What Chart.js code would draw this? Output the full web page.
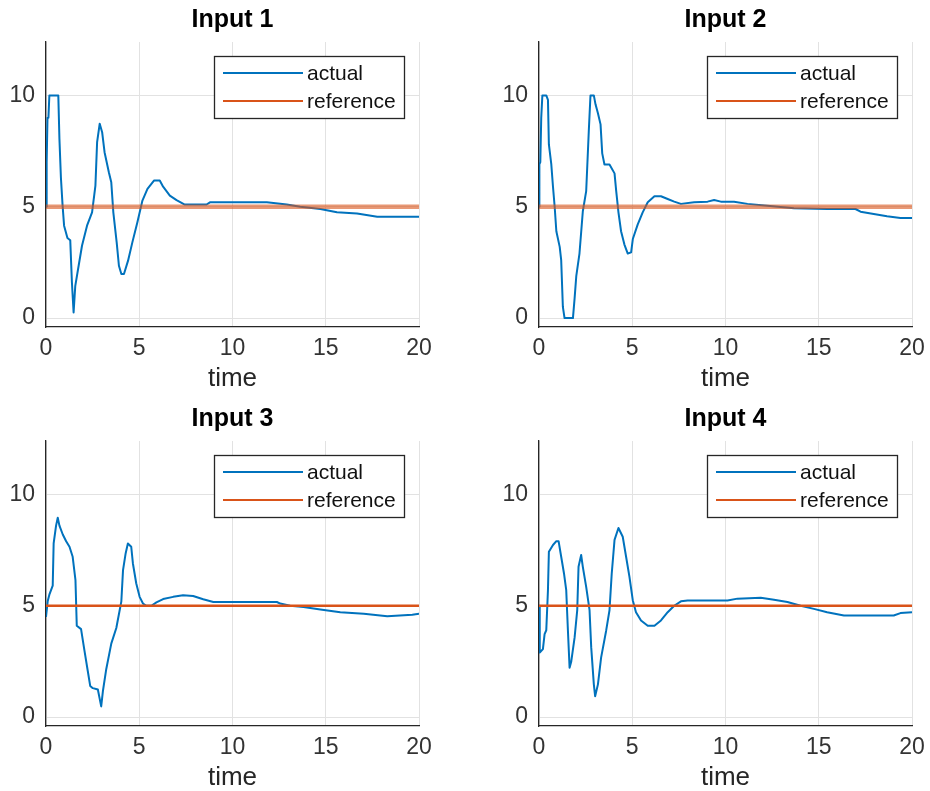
<!DOCTYPE html>
<html>
<head>
<meta charset="utf-8">
<title>Input 1-4: actual vs reference</title>
<script src="https://cdn.jsdelivr.net/npm/chart.js@4.4.1/dist/chart.umd.min.js"></script>
<style>
  body { margin: 0; background: #fff; }
  #wrap { position: relative; width: 930px; height: 791px; overflow: hidden; }
  #wrap canvas { position: absolute; }
</style>
</head>
<body>
<div id="wrap">
  <canvas id="p1" width="437" height="392" style="left:0px;top:0px"></canvas>
  <canvas id="p2" width="437" height="392" style="left:493px;top:0px"></canvas>
  <canvas id="p3" width="437" height="392" style="left:0px;top:399px"></canvas>
  <canvas id="p4" width="437" height="392" style="left:493px;top:399px"></canvas>
</div>
<script>
// values
const titles = ['Input 1', 'Input 2', 'Input 3', 'Input 4']
const legendLabels = ['actual', 'reference']
const xLabel = 'time'
const xTicks = [0, 5, 10, 15, 20]
const yTicks = [0, 5, 10]

const refTime = [0, 20]
const refLevel = [5, 5]

const time1 = [0, 0.02, 0.05, 0.08, 0.13, 0.18, 0.66, 0.72, 0.80, 0.89, 0.97, 1.15, 1.30, 1.39, 1.48, 1.57,
  1.75, 1.93, 2.20, 2.47, 2.65, 2.74, 2.88, 3.01, 3.14, 3.37, 3.50, 3.61, 3.79, 3.91, 4.04, 4.18, 4.40, 4.63,
  4.90, 5.17, 5.44, 5.80, 6.10, 6.28, 6.64, 7.0, 7.44, 8.61, 8.79, 11.84, 12.91, 13.63, 14.71, 15.6, 16.68,
  17.76, 20]
const actual1 = [5, 7, 7, 9, 9, 10, 10, 8.05, 6.3, 5.05, 4.15, 3.6, 3.5, 1.6, 0.25, 1.45,
  2.35, 3.25, 4.15, 4.75, 5.95, 7.9, 8.73, 8.35, 7.45, 6.55, 6.1, 4.75, 3.4, 2.35, 1.98, 1.98, 2.58, 3.4,
  4.3, 5.28, 5.8, 6.18, 6.18, 5.9, 5.5, 5.3, 5.1, 5.1, 5.2, 5.2, 5.1, 5.0, 4.9, 4.75, 4.7,
  4.55, 4.55]

const time2 = [0, 0.02, 0.07, 0.12, 0.18, 0.39, 0.48, 0.53, 0.66, 0.75, 0.84, 0.93, 1.11, 1.19, 1.28, 1.37,
  1.82, 1.91, 2.0, 2.17, 2.35, 2.53, 2.67, 2.76, 2.94, 3.03, 3.16, 3.30, 3.39, 3.51, 3.78, 4.05, 4.14, 4.26,
  4.40, 4.58, 4.76, 4.94, 5.03, 5.29, 5.56, 5.83, 6.19, 6.54, 6.9, 7.25, 7.61, 8.32, 9.04, 9.39, 9.75, 10.46,
  11.18, 12.25, 13.67, 15.45, 16.97, 17.24, 17.95, 18.66, 19.38, 20]
const actual2 = [5, 6.9, 7, 9, 10, 10, 9.8, 7.8, 6.9, 5.9, 5.0, 3.9, 3.2, 2.6, 0.5, 0,
  0, 0.9, 1.9, 2.9, 4.8, 5.7, 8.4, 10, 10, 9.6, 9.2, 8.7, 7.4, 6.9, 6.9, 6.5, 5.7, 4.75,
  3.9, 3.3, 2.9, 2.95, 3.55, 4.2, 4.75, 5.2, 5.47, 5.47, 5.35, 5.23, 5.13, 5.2, 5.23, 5.3, 5.23, 5.23,
  5.13, 5.05, 4.93, 4.9, 4.9, 4.78, 4.68, 4.57, 4.5, 4.5]

const time3 = [0, 0.09, 0.18, 0.36, 0.41, 0.54, 0.63, 0.72, 0.90, 1.08, 1.26, 1.43, 1.58, 1.65, 1.88, 2.06,
  2.24, 2.37, 2.51, 2.78, 2.96, 3.05, 3.23, 3.50, 3.77, 3.95, 4.04, 4.13, 4.27, 4.39, 4.57, 4.66, 4.84, 5.02,
  5.20, 5.38, 5.65, 5.92, 6.28, 6.82, 7.35, 7.89, 8.43, 8.97, 10.04, 12.38, 12.56, 13.09, 13.81, 14.71,
  15.78, 17.04, 18.30, 19.64, 20]
const actual3 = [4.5, 5.2, 5.5, 5.9, 7.8, 8.6, 8.95, 8.6, 8.2, 7.9, 7.65, 7.2, 6.15, 4.1, 3.95, 3.0,
  2.07, 1.4, 1.3, 1.24, 0.48, 1.16, 2.15, 3.3, 4.0, 4.8, 5.2, 6.6, 7.35, 7.8, 7.65, 6.9, 6.0, 5.4,
  5.1, 5.0, 5.0, 5.15, 5.3, 5.4, 5.47, 5.44, 5.29, 5.17, 5.17, 5.17, 5.1, 5.0, 4.94, 4.83,
  4.71, 4.64, 4.53, 4.6, 4.64]

const time4 = [0, 0.04, 0.21, 0.30, 0.39, 0.48, 0.53, 0.75, 0.93, 1.05, 1.19, 1.34, 1.46, 1.55, 1.64, 1.73,
  1.91, 2.05, 2.12, 2.26, 2.35, 2.53, 2.71, 2.80, 2.94, 3.01, 3.16, 3.33, 3.60, 3.78, 3.90, 4.05, 4.26, 4.49,
  4.67, 4.85, 5.03, 5.20, 5.47, 5.83, 6.19, 6.54, 6.90, 7.25, 7.61, 7.97, 10.11, 10.64, 11.89, 12.60,
  13.32, 14.03, 14.74, 15.45, 16.35, 19.02, 19.38, 20]
const actual4 = [5, 2.9, 3.05, 3.73, 3.9, 5.7, 7.43, 7.73, 7.9, 7.9, 7.2, 6.45, 5.7, 3.9, 2.22, 2.5,
  3.58, 4.8, 6.75, 7.28, 6.75, 5.85, 4.8, 3.13, 1.47, 0.94, 1.47, 2.67, 3.88, 4.8, 6.45, 7.96, 8.49, 8.1,
  7.2, 6.3, 5.24, 4.71, 4.34, 4.1, 4.1, 4.34, 4.71, 5.0, 5.2, 5.24, 5.24, 5.32, 5.36, 5.27,
  5.17, 5.0, 4.86, 4.71, 4.56, 4.56, 4.67, 4.71]

const times = [time1, time2, time3, time4]
const actuals = [actual1, actual2, actual3, actual4]

// look
const FONT = "'Liberation Sans', Arial, sans-serif"
const BLUE = '#0072BD'
const ORANGE = '#D95319'
const AXIS = '#262626'
const GRID = '#e2e2e2'
const refLook = [
  { color: 'rgba(217,83,25,0.6)', width: 4.5 },
  { color: 'rgba(217,83,25,0.6)', width: 4.5 },
  { color: ORANGE, width: 2.5 },
  { color: ORANGE, width: 2.5 }
]

Chart.defaults.font.family = FONT

const pairs = (xs, ys) => xs.map((x, i) => ({ x: x, y: ys[i] }))

// legend box drawn inside the axes, top right, like matlab's 'northeast'
const insideLegend = {
  id: 'insideLegend',
  afterDraw(chart) {
    const { ctx, chartArea } = chart
    const w = 190, h = 62
    const left = chartArea.right - 15 - w
    const top = chartArea.top + 14
    ctx.save()
    ctx.fillStyle = '#fff'
    ctx.fillRect(left, top, w, h)
    ctx.strokeStyle = AXIS
    ctx.lineWidth = 1.3
    ctx.strokeRect(left + 0.5, top + 0.5, w, h)
    ctx.font = '21px ' + FONT
    ctx.textBaseline = 'middle'
    ctx.textAlign = 'left'
    const rows = [17, 45]
    chart.data.datasets.forEach((ds, i) => {
      const y = top + rows[i]
      ctx.strokeStyle = i === 0 ? BLUE : ORANGE
      ctx.lineWidth = 2
      ctx.beginPath()
      ctx.moveTo(left + 9, y)
      ctx.lineTo(left + 89, y)
      ctx.stroke()
      ctx.fillStyle = '#111'
      ctx.fillText(ds.label, left + 93, y + 1)
    })
    ctx.restore()
  }
}

function makePanel(id, idx) {
  const tickFont = { family: FONT, size: 23 }
  return new Chart(document.getElementById(id), {
    type: 'line',
    data: {
      datasets: [
        {
          label: legendLabels[0],
          data: pairs(times[idx], actuals[idx]),
          borderColor: BLUE,
          borderWidth: 2,
          borderJoinStyle: 'round',
          pointRadius: 0,
          tension: 0,
          order: 1
        },
        {
          label: legendLabels[1],
          data: pairs(refTime, refLevel),
          borderColor: refLook[idx].color,
          borderWidth: refLook[idx].width,
          pointRadius: 0,
          tension: 0,
          order: 0
        }
      ]
    },
    options: {
      responsive: false,
      animation: false,
      events: [],
      layout: { padding: { left: 0, right: 18, top: 0, bottom: 0 } },
      plugins: {
        legend: { display: false },
        tooltip: { enabled: false },
        title: {
          display: true,
          text: titles[idx],
          fullSize: false,
          color: '#000',
          font: { family: FONT, size: 25, weight: 'bold', lineHeight: 1.2 },
          padding: { top: 5, bottom: 7 }
        }
      },
      scales: {
        x: {
          type: 'linear',
          min: 0,
          max: 20,
          afterBuildTicks: s => { s.ticks = xTicks.map(v => ({ value: v })) },
          afterFit: s => {
            s.height = 65
            s.paddingLeft = 6
            s.paddingRight = 13
          },
          grid: { color: GRID, lineWidth: 1, drawTicks: false },
          border: { color: AXIS, width: 1.3 },
          ticks: { color: '#333', font: tickFont, padding: 8, maxRotation: 0, autoSkip: false },
          title: {
            display: true,
            text: xLabel,
            color: AXIS,
            font: { family: FONT, size: 26, lineHeight: 1 },
            padding: { top: 0, bottom: 0 }
          }
        },
        y: {
          type: 'linear',
          min: -0.4,
          max: 12.4,
          afterBuildTicks: s => { s.ticks = yTicks.map(v => ({ value: v })) },
          afterFit: s => { s.width = 46 },
          grid: { color: GRID, lineWidth: 1, drawTicks: false },
          border: { color: AXIS, width: 1.3 },
          ticks: { color: '#333', font: tickFont, padding: 11 }
        }
      }
    },
    plugins: [insideLegend]
  })
}

['p1', 'p2', 'p3', 'p4'].forEach((id, i) => makePanel(id, i))
</script>
</body>
</html>
